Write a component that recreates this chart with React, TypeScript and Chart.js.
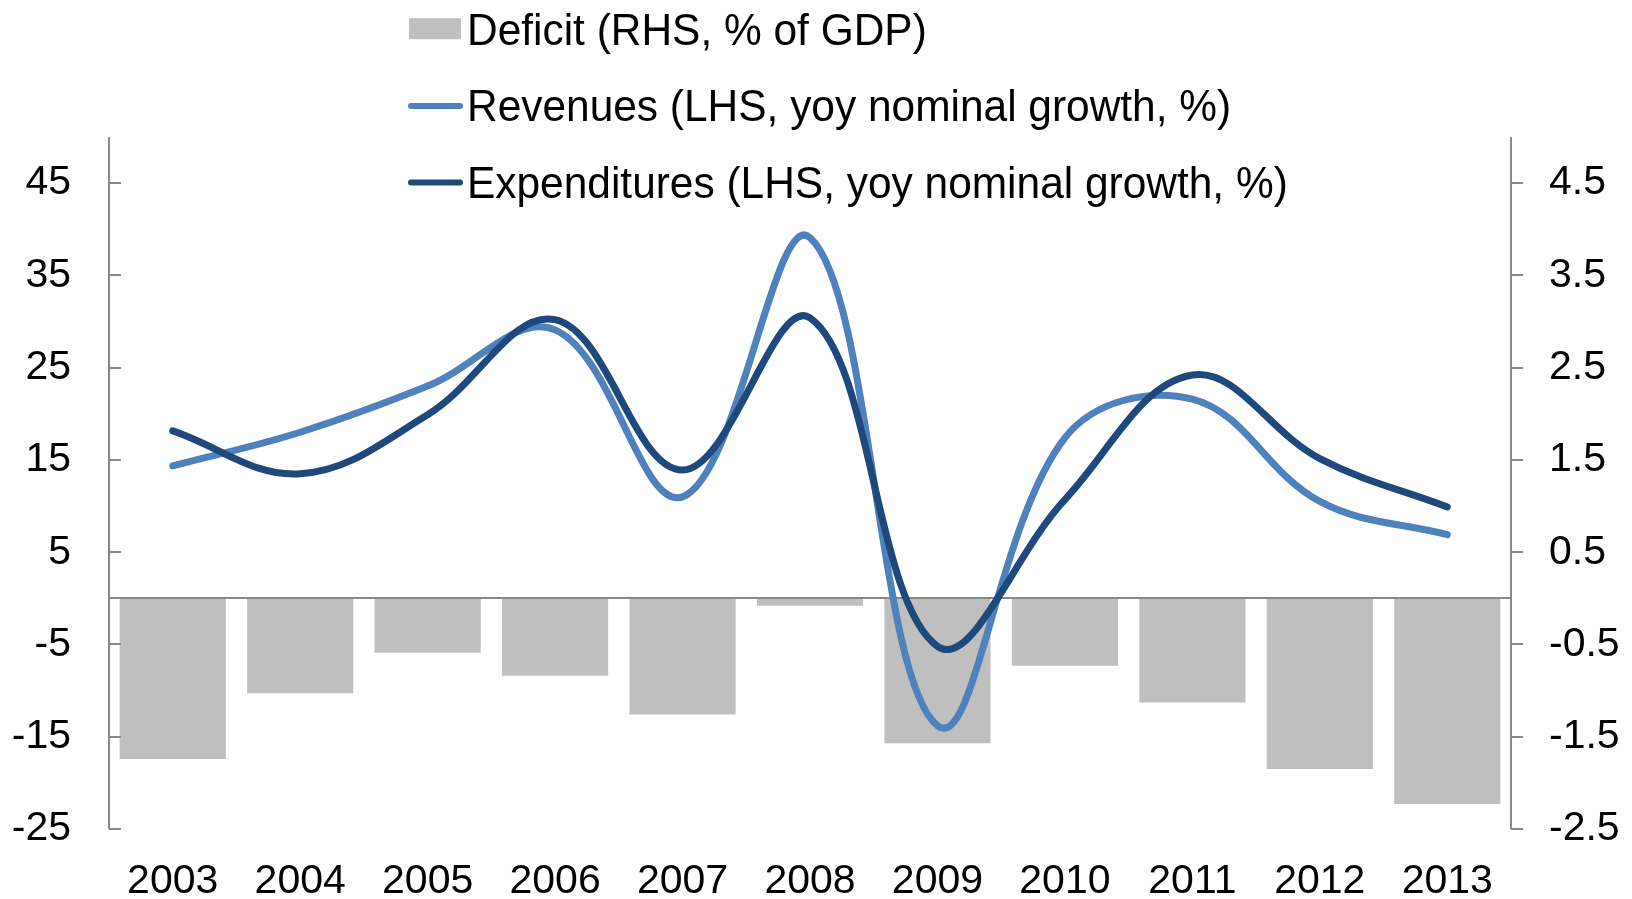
import React, { useEffect, useRef } from "react";
import { Chart, registerables } from "chart.js";

Chart.register(...registerables);

const years = ["2003", "2004", "2005", "2006", "2007", "2008", "2009", "2010", "2011", "2012", "2013"];
const deficit = [-1.74, -1.03, -0.59, -0.84, -1.26, -0.08, -1.57, -0.73, -1.13, -1.85, -2.23];
const revenues = [14.35, 18.0, 23.0, 29.1, 11.0, 39.1, -13.8, 17.4, 21.6, 10.5, 6.9];
const expenditures = [18.15, 13.5, 19.9, 30.2, 13.9, 30.4, -5.2, 10.7, 24.2, 15.15, 9.9];
const leftTicks = [-25, -15, -5, 5, 15, 25, 35, 45];
const rightTicks = [-2.5, -1.5, -0.5, 0.5, 1.5, 2.5, 3.5, 4.5];
const seriesLabels = [
  "Deficit (RHS, % of GDP)",
  "Revenues (LHS, yoy nominal growth, %)",
  "Expenditures (LHS, yoy nominal growth, %)",
];

const FONT = "'Liberation Sans', Arial, sans-serif";
const BAR_COLOR = "#BFBFBF";
const REV_COLOR = "#4F81BD";
const EXP_COLOR = "#1F497D";
const AXIS_COLOR = "#898989";

const decorPlugin = {
  id: "decor",
  afterDatasetDraw(chart: any, args: any) {
    if (args.index !== 0) return;
    const { ctx, chartArea } = chart;
    const y = chart.scales.y;
    const y1 = chart.scales.y1;
    const L = chart.chartArea.left;
    const R = chart.chartArea.right;
    ctx.save();
    ctx.strokeStyle = AXIS_COLOR;
    ctx.lineWidth = 2;
    ctx.beginPath();
    const z = Math.round(y.getPixelForValue(0));
    ctx.moveTo(L, z);
    ctx.lineTo(R, z);
    ctx.moveTo(L, chartArea.top);
    ctx.lineTo(L, chartArea.bottom);
    ctx.moveTo(R, chartArea.top);
    ctx.lineTo(R, chartArea.bottom);
    leftTicks.forEach((v) => {
      const p = Math.round(y.getPixelForValue(v));
      ctx.moveTo(L, p);
      ctx.lineTo(L + 12, p);
    });
    rightTicks.forEach((v) => {
      const p = Math.round(y1.getPixelForValue(v));
      ctx.moveTo(R, p);
      ctx.lineTo(R + 12, p);
    });
    ctx.stroke();
    ctx.restore();
  },
  afterDraw(chart: any) {
    const { ctx } = chart;
    const ds = chart.data.datasets;
    ctx.save();
    const rowBase = [45, 121.3, 197.6];
    const rowMid = [28.7, 106, 182.5];
    const order = [0, 1, 2];
    order.forEach((di, r) => {
      const d = ds[di];
      if (d.type === "bar") {
        ctx.fillStyle = d.backgroundColor;
        ctx.fillRect(409, rowMid[r] - 10.5, 52, 21);
      } else {
        ctx.strokeStyle = d.borderColor;
        ctx.lineWidth = 6;
        ctx.lineCap = "round";
        ctx.beginPath();
        ctx.moveTo(411, rowMid[r]);
        ctx.lineTo(460, rowMid[r]);
        ctx.stroke();
      }
      ctx.save();
      ctx.translate(467, rowBase[r]);
      ctx.scale(0.943, 1);
      ctx.fillStyle = "#000";
      ctx.font = `45px ${FONT}`;
      ctx.textBaseline = "alphabetic";
      ctx.textAlign = "left";
      ctx.fillText(d.label, 0, 0);
      ctx.restore();
    });
    ctx.restore();
  },
};

export default function App() {
  const ref = useRef<HTMLCanvasElement>(null);
  useEffect(() => {
    document.body.style.margin = "0";
    const canvas = ref.current;
    if (!canvas) return;
    const tickFont = { family: FONT, size: 41 };
    const chart = new Chart(canvas, {
      type: "bar",
      data: {
        labels: years,
        datasets: [
          {
            type: "bar",
            label: seriesLabels[0],
            data: deficit,
            yAxisID: "y1",
            backgroundColor: BAR_COLOR,
            borderWidth: 0,
            barPercentage: 0.833,
            categoryPercentage: 1,
            order: 2,
          } as any,
          {
            type: "line",
            label: seriesLabels[1],
            data: revenues,
            yAxisID: "y",
            borderColor: REV_COLOR,
            backgroundColor: REV_COLOR,
            borderWidth: 7,
            pointRadius: 0,
            tension: 0.38,
            borderCapStyle: "round",
            fill: false,
            order: 1,
          } as any,
          {
            type: "line",
            label: seriesLabels[2],
            data: expenditures,
            yAxisID: "y",
            borderColor: EXP_COLOR,
            backgroundColor: EXP_COLOR,
            borderWidth: 7,
            pointRadius: 0,
            tension: 0.38,
            borderCapStyle: "round",
            fill: false,
            order: 0,
          } as any,
        ],
      },
      options: {
        responsive: false,
        animation: false,
        devicePixelRatio: 1,
        layout: { padding: { top: 137, left: 0, right: 0, bottom: 0 } },
        plugins: {
          legend: { display: false },
          tooltip: { enabled: false },
          title: { display: false },
        },
        scales: {
          x: {
            type: "category",
            offset: true,
            grid: { display: false, drawTicks: false },
            border: { display: false },
            ticks: {
              color: "#000",
              font: tickFont,
              padding: 28,
              maxRotation: 0,
              autoSkip: false,
            },
            afterFit: (s: any) => {
              s.height = 70;
            },
          },
          y: {
            type: "linear",
            position: "left",
            min: -25,
            max: 50,
            grid: { display: false, drawTicks: false },
            border: { display: false },
            afterBuildTicks: (s: any) => {
              s.ticks = leftTicks.map((v) => ({ value: v }));
            },
            ticks: {
              color: "#000",
              font: tickFont,
              padding: 38,
              callback: (v: any) => String(v),
            },
            afterFit: (s: any) => {
              s.width = 109;
            },
          },
          y1: {
            type: "linear",
            position: "right",
            min: -2.5,
            max: 5,
            grid: { display: false, drawTicks: false },
            border: { display: false },
            afterBuildTicks: (s: any) => {
              s.ticks = rightTicks.map((v) => ({ value: v }));
            },
            ticks: {
              color: "#000",
              font: tickFont,
              padding: 38,
              callback: (v: any) => Number(v).toFixed(1),
            },
            afterFit: (s: any) => {
              s.width = 121;
            },
          },
        },
      } as any,
      plugins: [decorPlugin],
    });
    return () => chart.destroy();
  }, []);
  return (
    <div style={{ position: "absolute", left: 0, top: 0, width: 1632, height: 899, background: "#fff" }}>
      <canvas ref={ref} width={1632} height={899} style={{ display: "block", width: 1632, height: 899 }} />
    </div>
  );
}
